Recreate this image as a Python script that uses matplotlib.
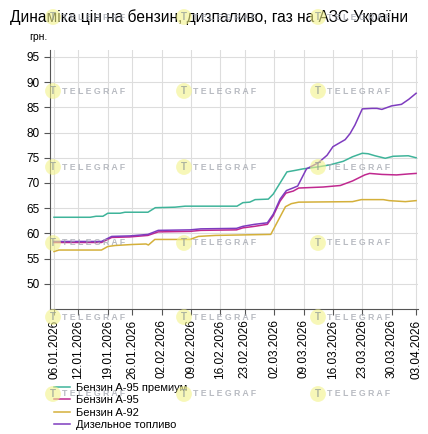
import matplotlib.pyplot as plt

plt.rcParams['font.family'] = ['Liberation Sans', 'DejaVu Sans']

# tick dates and their positions on the category axis (one step per data day)
tick_labels = ['06.01.2026', '12.01.2026', '19.01.2026', '26.01.2026', '02.02.2026',
               '09.02.2026', '16.02.2026', '23.02.2026', '02.03.2026', '09.03.2026',
               '16.03.2026', '23.03.2026', '30.03.2026', '03.04.2026']
tick_pos = [0, 5, 11, 16, 22, 28, 34, 39, 45, 51, 57, 63, 69, 74]

# Бензин A-95 премиум
prem_x = [0, 7.4, 8.6, 10, 11, 13.5, 14.5, 19.2, 20.7, 24.7, 26.8, 37.4, 38.6, 40,
          41.1, 43.8, 44.8, 46.2, 47.6, 49.3, 50.9, 54, 56.4, 59.1, 61, 63, 64.2,
          65.6, 67.7, 69.3, 72.4, 74]
prem_y = [63.2, 63.2, 63.4, 63.4, 64.0, 64.0, 64.2, 64.2, 65.1, 65.2, 65.4, 65.4, 66.1, 66.2,
          66.7, 66.8, 67.8, 70.0, 72.2, 72.5, 72.8, 73.2, 73.6, 74.3, 75.2, 75.9, 75.8,
          75.4, 74.9, 75.3, 75.4, 75.0]

# Бензин A-95
a95_x = [0, 9.7, 11.8, 15.5, 19.2, 21.3, 27.8, 30, 37.3, 38.6, 41, 43.6, 44.8, 46.2,
         47.4, 48.9, 50, 55, 58.5, 61, 63.5, 64.5, 67, 70, 72.5, 74]
a95_y = [58.2, 58.2, 59.2, 59.3, 59.6, 60.3, 60.4, 60.6, 60.7, 61.1, 61.4, 61.8, 63.5, 66.4,
         68.0, 68.4, 69.0, 69.2, 69.5, 70.4, 71.6, 71.9, 71.7, 71.6, 71.8, 71.9]

# Бензин A-92
a92_x = [0, 1, 9.7, 11, 12.5, 16, 18.8, 19.3, 20.6, 27.8, 29.5, 33, 44.3, 47.3, 48.5,
         50, 61, 62.8, 67.3, 68.5, 71.8, 74]
a92_y = [56.4, 56.7, 56.7, 57.4, 57.6, 57.8, 57.9, 57.7, 58.8, 58.8, 59.4, 59.6, 59.8, 65.3, 65.9,
         66.2, 66.3, 66.7, 66.7, 66.5, 66.3, 66.5]

# Дизельное топливо
dies_x = [0, 9.7, 11.8, 15.5, 19.2, 21.3, 27.8, 30, 37.3, 38.6, 41, 43.6, 44.8, 46.2,
          47.5, 48.8, 49.8, 51.6, 54, 55.8, 57, 59.5, 60.5, 61.5, 63, 65, 66, 67, 69,
          71, 72.5, 74]
dies_y = [58.4, 58.4, 59.4, 59.5, 59.8, 60.6, 60.7, 60.9, 61.0, 61.4, 61.8, 62.1, 63.8, 66.8,
          68.5, 69.0, 69.4, 72.8, 74.0, 75.5, 77.2, 78.6, 79.8, 81.5, 84.7, 84.8, 84.8, 84.6, 85.3,
          85.6, 86.6, 87.8]

fig = plt.figure(figsize=(4.28, 4.34), dpi=100)
ax = fig.add_axes([0.1168, 0.288, 0.86, 0.597])

ax.plot(prem_x, prem_y, color='#3fb49a', lw=1.1, label='Бензин A-95 премиум')
ax.plot(a95_x, a95_y, color='#c0288f', lw=1.1, label='Бензин A-95')
ax.plot(a92_x, a92_y, color='#d4b03a', lw=1.1, label='Бензин A-92')
ax.plot(dies_x, dies_y, color='#7e3cbf', lw=1.1, label='Дизельное топливо')

ax.set_xlim(-0.82, 74.4)
ax.set_ylim(45, 96.4)
ax.set_yticks(range(50, 100, 5))
ax.set_xticks(tick_pos)
ax.set_xticklabels(tick_labels, rotation=90)
ax.tick_params(labelsize=8.5, color='#555555', length=4, width=0.8)
ax.grid(True, color='#dddddd', lw=0.8)
ax.set_axisbelow(True)
for s in ['top', 'right']:
    ax.spines[s].set_visible(False)
for s in ['left', 'bottom']:
    ax.spines[s].set_color('#555555')
    ax.spines[s].set_linewidth(0.8)

fig.text(0.023, 0.96, 'Динаміка цін на бензин, дизпаливо, газ на АЗС України',
         fontsize=11.2, va='center', ha='left')
fig.text(0.112, 0.915, 'грн.', fontsize=7.5, ha='right', va='center')

ax.legend(loc='upper left', bbox_to_anchor=(0.125, 0.118), bbox_transform=fig.transFigure,
          frameon=False, fontsize=8, handlelength=1.5, handletextpad=0.5,
          labelspacing=0.22, borderaxespad=0, borderpad=0)

# TELEGRAF watermarks
for yy in [17, 91, 167, 243, 317, 394]:
    for xx in [53, 184, 318]:
        fy = 1 - yy / 434
        fig.text(xx / 428, fy, 'T', fontsize=7, color='#9aa39a', ha='center', va='center',
                 fontweight='bold', alpha=0.8,
                 bbox=dict(boxstyle='circle,pad=0.3', fc='#f3f38a', ec='none', alpha=0.6))
        fig.text((xx + 9) / 428, fy, 'T E L E G R A F', fontsize=6.3, color='#a0a4ad',
                 ha='left', va='center', fontweight='bold', alpha=0.75)

fig.savefig('out.png', dpi=100)
